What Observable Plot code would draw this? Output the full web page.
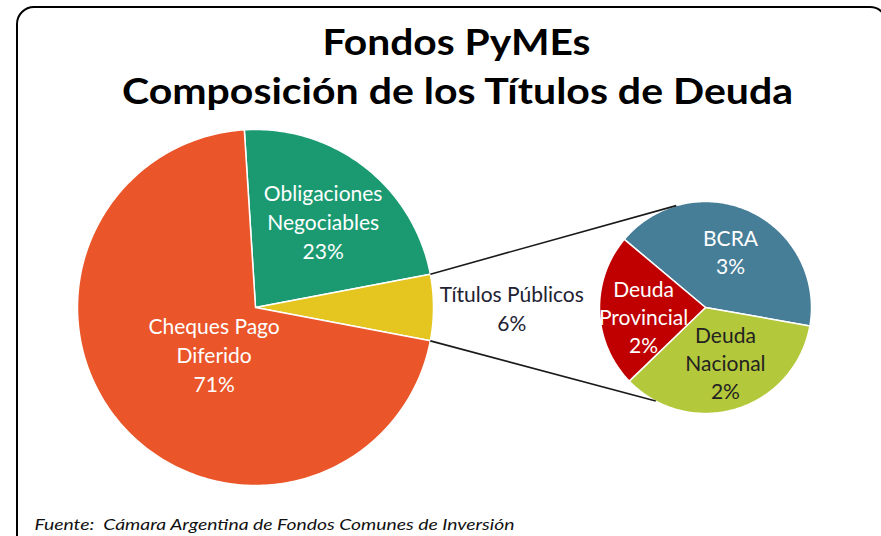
<!DOCTYPE html>
<html><head><meta charset="utf-8">
<script src="https://cdn.jsdelivr.net/npm/d3@7"></script>
<script src="https://cdn.jsdelivr.net/npm/@observablehq/plot@0.6"></script>
<style>
body{margin:0;background:#fff;}
#wrap{position:relative;width:881px;height:536px;overflow:hidden;}
#wrap svg{position:absolute;left:0;top:0;}
#frame{position:absolute;left:16px;top:6px;width:872px;height:560px;border:2.5px solid #000;border-radius:18px;box-sizing:border-box;pointer-events:none;}
</style></head><body><div id="wrap"><div id="frame"></div></div>
<script>
// ---- data ----
const mainCategories = ["Obligaciones\nNegociables", "Títulos Públicos", "Cheques Pago\nDiferido"];
const mainValues = [23, 6, 71];
const mainLabels = ["23%", "6%", "71%"];
const subCategories = ["BCRA", "Deuda\nNacional", "Deuda\nProvincial"];
const subValues = [2.5, 2.1, 1.4];
const subLabels = ["3%", "2%", "2%"];
const titleLines = ["Fondos PyMEs", "Composición de los Títulos de Deuda"];
const sourceText = "Fuente:  Cámara Argentina de Fondos Comunes de Inversión";

// ---- styling / layout ----
const mainColors = ["#1b9a72", "#e5c621", "#ea5529"];
const subColors = ["#467d97", "#b4c83b", "#c00000"];
const mainText = ["#ffffff", "#222233", "#ffffff"];
const subText = ["#ffffff", "#222222", "#ffffff"];
const W = 881, H = 536;
const mainGeo = {cx: 255, cy: 307, r: 178, start: 90 - (mainValues[0] + mainValues[1] / 2) / d3.sum(mainValues) * 360};
const subGeo = {cx: 705, cy: 307, r: 106, start: -50};
const mainLabelPos = [{da: 0, f: 0.62}, {da: 0, f: 1.44}, {da: -7, f: 0.35}];
const subLabelPos = [{da: -1, f: 0.58}, {da: -3, f: 0.55}, {da: -6, f: 0.59}];
const subLinkAngles = [-16, 208];
const titleWidths = [268, 671];
const sourceWidth = 480;

const rad = a => a * Math.PI / 180;
const px = (g, a, f = 1) => g.cx + g.r * f * Math.sin(rad(a));
const py = (g, a, f = 1) => g.cy - g.r * f * Math.cos(rad(a));

function buildSlices(cats, vals, g) {
  const total = d3.sum(vals);
  let a = g.start;
  const pts = [], arcs = [];
  cats.forEach((c, i) => {
    const a0 = a, a1 = a + vals[i] / total * 360;
    pts.push({key: c, x: g.cx, y: g.cy});
    const n = Math.max(2, Math.ceil(a1 - a0));
    for (let k = 0; k <= n; k++) {
      const t = a0 + (a1 - a0) * k / n;
      pts.push({key: c, x: px(g, t), y: py(g, t)});
    }
    pts.push({key: c, x: g.cx, y: g.cy});
    arcs.push({key: c, a0, a1, mid: (a0 + a1) / 2, i});
    a = a1;
  });
  return {pts, arcs};
}

const M = buildSlices(mainCategories, mainValues, mainGeo);
const S = buildSlices(subCategories, subValues, subGeo);

const mainLab = M.arcs.map(d => {
  const p = mainLabelPos[d.i], a = d.mid + p.da;
  return {x: px(mainGeo, a, p.f), y: py(mainGeo, a, p.f), text: mainCategories[d.i] + "\n" + mainLabels[d.i], color: mainText[d.i]};
});
const subLab = S.arcs.map(d => {
  const p = subLabelPos[d.i], a = d.mid + p.da;
  return {x: px(subGeo, a, p.f), y: py(subGeo, a, p.f), text: subCategories[d.i] + "\n" + subLabels[d.i], color: subText[d.i]};
});

const tp = M.arcs[1];
const links = [
  {x1: px(mainGeo, tp.a0), y1: py(mainGeo, tp.a0), x2: px(subGeo, subLinkAngles[0]), y2: py(subGeo, subLinkAngles[0])},
  {x1: px(mainGeo, tp.a1), y1: py(mainGeo, tp.a1), x2: px(subGeo, subLinkAngles[1]), y2: py(subGeo, subLinkAngles[1])}
];

const font = "Lato, 'Open Sans', sans-serif";

const plot = Plot.plot({
  width: W, height: H,
  margin: 0,
  x: {domain: [0, W], range: [0, W], axis: null},
  y: {domain: [0, H], range: [0, H], axis: null},
  color: {domain: [...mainCategories, ...subCategories], range: [...mainColors, ...subColors]},
  style: {fontFamily: font, background: "transparent"},
  marks: [
    Plot.dot([mainGeo, subGeo], {x: "cx", y: d => d.cy + 3, r: d => d.r, fill: "#777", fillOpacity: 0.45, stroke: "none", imageFilter: "blur(3px)"}),
    Plot.line(M.pts, {x: "x", y: "y", z: "key", fill: "key", stroke: "white", strokeWidth: 1.5, strokeLinejoin: "round"}),
    Plot.line(S.pts, {x: "x", y: "y", z: "key", fill: "key", stroke: "white", strokeWidth: 1.5, strokeLinejoin: "round"}),
    Plot.link(links, {x1: "x1", y1: "y1", x2: "x2", y2: "y2", stroke: "#1a1a1a", strokeWidth: 1.6}),
    Plot.text(mainLab, {x: "x", y: "y", text: "text", fill: "color", fontSize: 21, lineHeight: 1.38}),
    Plot.text(subLab, {x: "x", y: "y", text: "text", fill: "color", fontSize: 21, lineHeight: 1.33}),
    Plot.text([titleLines[0]], {x: 456, y: 54, text: d => d, fontSize: 36, fontWeight: "bold", fill: "#000", lineAnchor: "bottom"}),
    Plot.text([titleLines[1]], {x: 457, y: 103, text: d => d, fontSize: 36, fontWeight: "bold", fill: "#000", lineAnchor: "bottom"}),
    Plot.text([sourceText], {x: 34, y: 529, text: d => d, fontSize: 16, fontStyle: "italic", fill: "#111", textAnchor: "start", lineAnchor: "bottom"})
  ]
});
// stretch the Calibri-like texts to the widths measured on the reference
plot.querySelectorAll("text").forEach(t => {
  const s = t.textContent;
  const i = titleLines.indexOf(s);
  let w = i >= 0 ? titleWidths[i] : (s === sourceText ? sourceWidth : null);
  if (w) { t.setAttribute("textLength", w); t.setAttribute("lengthAdjust", "spacingAndGlyphs"); }
});
document.getElementById("wrap").prepend(plot);
</script>
</body></html>
